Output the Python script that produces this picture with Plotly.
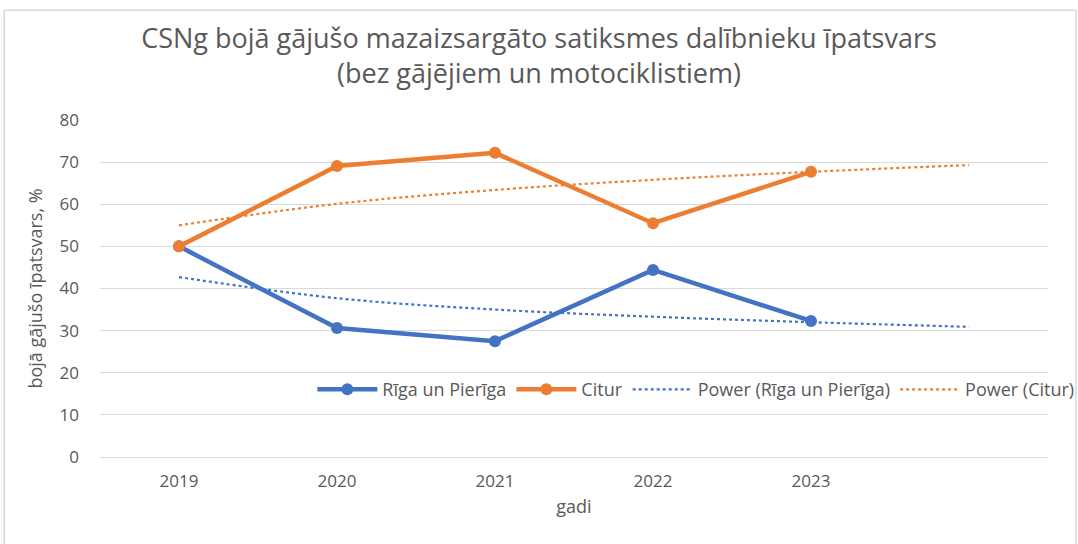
import plotly.graph_objects as go

years = [2019, 2020, 2021, 2022, 2023]
trend_years = [2019, 2020, 2021, 2022, 2023, 2024]
tick_labels = ["2019", "2020", "2021", "2022", "2023"]
riga = [50.0, 30.6, 27.5, 44.4, 32.3]
citur = [50.0, 69.1, 72.2, 55.5, 67.7]
riga_trend = [42.7, 37.7, 35.0, 33.3, 32.0, 30.9]
citur_trend = [55.0, 60.1, 63.4, 65.8, 67.7, 69.3]

BLUE = "#4472C4"
ORANGE = "#ED7D31"
TXT = "#595959"
FONT = "Open Sans"

fig = go.Figure()
fig.add_trace(go.Scatter(x=years, y=riga, name="Rīga un Pierīga", mode="lines+markers",
                         line=dict(color=BLUE, width=4.5), marker=dict(size=12, color=BLUE)))
fig.add_trace(go.Scatter(x=years, y=citur, name="Citur", mode="lines+markers",
                         line=dict(color=ORANGE, width=4.5), marker=dict(size=12, color=ORANGE)))
fig.add_trace(go.Scatter(x=trend_years, y=riga_trend, name="Power (Rīga un Pierīga)", mode="lines",
                         line=dict(color=BLUE, width=2.2, dash="dot", shape="spline")))
fig.add_trace(go.Scatter(x=trend_years, y=citur_trend, name="Power (Citur)", mode="lines",
                         line=dict(color=ORANGE, width=2.2, dash="dot", shape="spline")))

fig.update_layout(
    width=1078, height=544,
    margin=dict(l=100, r=30, t=120, b=87, autoexpand=False),
    paper_bgcolor="white", plot_bgcolor="white",
    font=dict(family=FONT, color=TXT, size=17),
    title=dict(text="CSNg bojā gājušo mazaizsargāto satiksmes dalībnieku īpatsvars<br>(bez gājējiem un motociklistiem)",
               x=0.5, xanchor="center", y=0.912, yanchor="top",
               font=dict(family=FONT, size=27, color=TXT)),
    xaxis=dict(range=[2018.5, 2024.5], tickvals=years, ticktext=tick_labels,
               showgrid=False, showline=False, zeroline=False, ticks="",
               tickfont=dict(size=17, color=TXT), automargin=False, ticklabelstandoff=12,
               title=dict(text="gadi", font=dict(size=18, color=TXT), standoff=9)),
    yaxis=dict(range=[0, 80], dtick=10, showgrid=True, gridcolor="#D9D9D9", gridwidth=1.3,
               zeroline=True, zerolinecolor="#D9D9D9", zerolinewidth=1.3, showline=False,
               ticks="", tickfont=dict(size=17, color=TXT), ticklabelstandoff=20, automargin=False,
               title=dict(text="bojā gājušo īpatsvars, %", font=dict(size=18, color=TXT), standoff=12)),
    legend=dict(orientation="h", x=0.224, xanchor="left", y=0.2, yanchor="middle",
                bgcolor="rgba(0,0,0,0)", font=dict(size=18, color=TXT), itemwidth=60,
                tracegroupgap=0),
    showlegend=True,
)
fig.add_shape(type="rect", xref="paper", yref="paper", x0=-0.101, x1=1.0295, y0=-0.4, y1=1.326,
              line=dict(color="#D9D9D9", width=1.5), fillcolor="rgba(0,0,0,0)", layer="below")

fig.write_html("out.html", config={"displayModeBar": False},
               post_script="document.body.style.margin='0';document.body.style.padding='0';")
